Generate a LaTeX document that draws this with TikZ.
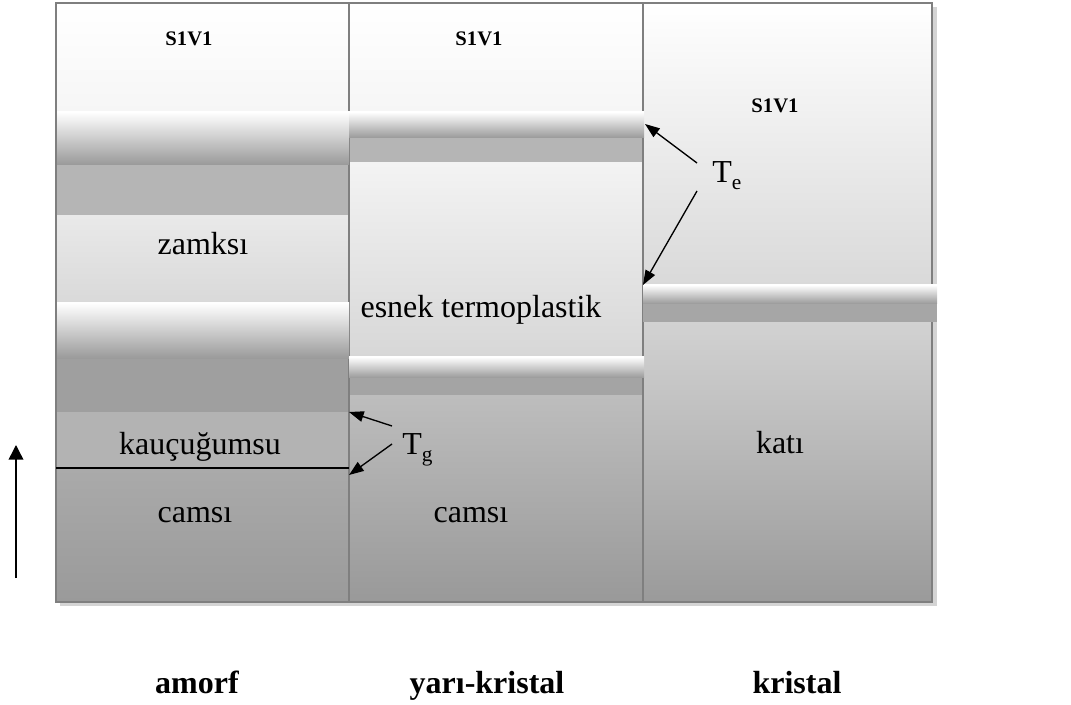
\documentclass[tikz,border=0pt]{standalone}
\usepackage{fontspec}
\setmainfont{Liberation Serif}
\usetikzlibrary{arrows.meta}
\definecolor{cF5}{HTML}{F6F6F6}
\definecolor{cB5}{HTML}{B5B5B5}
\definecolor{cE9}{HTML}{E9E9E9}
\definecolor{cD9}{HTML}{D9D9D9}
\definecolor{c9F}{HTML}{9F9F9F}
\definecolor{cB3}{HTML}{B3B3B3}
\definecolor{cA9}{HTML}{AAAAAA}
\definecolor{c9A}{HTML}{9A9A9A}
\definecolor{cF3}{HTML}{F3F3F3}
\definecolor{cD7}{HTML}{D7D7D7}
\definecolor{cA4}{HTML}{A4A4A4}
\definecolor{cBD}{HTML}{BDBDBD}
\definecolor{c99}{HTML}{999999}
\definecolor{cD2}{HTML}{D2D2D2}
\definecolor{cA6}{HTML}{A6A6A6}
\definecolor{bandmid}{HTML}{D6D6D6}
\definecolor{bordergray}{HTML}{7F7F7F}
\definecolor{shadowgray}{HTML}{D4D4D4}
\begin{document}
\begin{tikzpicture}[x=0.75pt,y=-0.75pt,
  lbl/.style={font=\fontsize{24}{28}\selectfont, inner sep=0pt, anchor=base},
  sivi/.style={font=\fontsize{15.5}{18}\selectfont\bfseries, inner sep=0pt, anchor=base},
  bottomlbl/.style={font=\fontsize{24}{28}\selectfont\bfseries, inner sep=0pt, anchor=base},
  tube/.style={top color=white, middle color=bandmid, bottom color=c99},
  border/.style={draw=bordergray, line width=1.5pt},
  arr/.style={-{Triangle[length=11pt,width=8pt]}, line width=1pt, black}]
\useasboundingbox (0,0) rectangle (1071,705);
% shadow
\fill[shadowgray] (60,7) rectangle (937,606);
% column 1 (amorf)
\shade[top color=white, bottom color=cF5] (56,3) rectangle (349,112);
\fill[cB5] (56,165) rectangle (349,216);
\shade[top color=cE9, bottom color=cD9] (56,216) rectangle (349,303);
\fill[c9F] (56,359) rectangle (349,412);
\fill[cB3] (56,412) rectangle (349,468);
\shade[top color=cA9, bottom color=c9A] (56,468) rectangle (349,602);
% column 2 (yari-kristal)
\shade[top color=white, bottom color=cF5] (349,3) rectangle (643,112);
\fill[cB5] (349,138) rectangle (643,163);
\shade[top color=cF3, bottom color=cD7] (349,163) rectangle (643,357);
\fill[cA4] (349,378) rectangle (643,396);
\shade[top color=cBD, bottom color=c99] (349,396) rectangle (643,602);
% column 3 (kristal)
\shade[top color=white, bottom color=cD9] (643,3) rectangle (932,285);
\shade[top color=cD2, bottom color=c9A] (643,322) rectangle (932,602);
% borders
\draw[border] (56,3) rectangle (932,602);
\draw[border] (349,3) -- (349,602);
\draw[border] (643,3) -- (643,602);
% bands
\shade[tube] (57,112) rectangle (349,165);
\shade[tube] (57,303) rectangle (349,359);
\shade[tube] (349,112) rectangle (644,138);
\shade[tube] (349,357) rectangle (644,378);
\shade[tube] (643,285) rectangle (937,304);
\fill[cA6] (643,304) rectangle (937,322);
% line kaucugumsu / camsi
\draw[black, line width=1pt] (56,468) -- (349,468);
% texts
\node[sivi] (s1) at (189,46) {S1V1};
\node[sivi] (s2) at (479,46) {S1V1};
\node[sivi] (s3) at (775,113) {S1V1};
\node[lbl] (zam) at (203,255) {zamksı};
\node[lbl] (esn) at (481,318) {esnek termoplastik};
\node[lbl] (kau) at (200,455) {kauçuğumsu};
\node[lbl] (cam1) at (195,523) {camsı};
\node[lbl] (cam2) at (471,523) {camsı};
\node[lbl] (kat) at (780,454) {katı};
\node[lbl, anchor=base west] (te) at (712,183) {T\raisebox{-0.45ex}{\fontsize{16}{18}\selectfont e}};
\node[lbl, anchor=base west] (tg) at (402,455) {T\raisebox{-0.45ex}{\fontsize{16}{18}\selectfont g}};
\node[bottomlbl] (am) at (197,693) {amorf};
\node[bottomlbl] (yk) at (487,693) {yarı-kristal};
\node[bottomlbl] (kr) at (797,693) {kristal};
% arrows
\coordinate (teA) at (697,163);
\coordinate (teB) at (697,191);
\coordinate (teTip1) at (645,124);
\coordinate (teTip2) at (643,285);
\coordinate (tgA) at (392,426);
\coordinate (tgB) at (392,444);
\coordinate (tgTip1) at (349,412);
\coordinate (tgTip2) at (349,475);
\draw[arr] (teA) -- (teTip1);
\draw[arr] (teB) -- (teTip2);
\draw[arr] (tgA) -- (tgTip1);
\draw[arr] (tgB) -- (tgTip2);
\coordinate (upS) at (16,578);
\coordinate (upE) at (16,445);
\draw[-{Triangle[length=11pt,width=11pt]}, line width=1.1pt] (upS) -- (upE);
\end{tikzpicture}
\end{document}
